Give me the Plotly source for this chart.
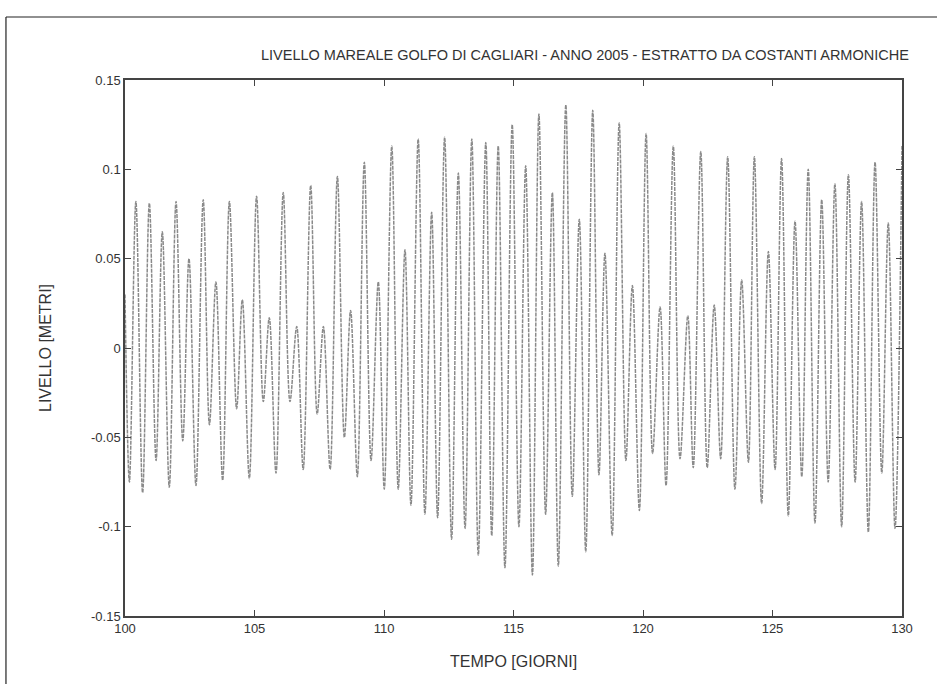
import plotly.graph_objects as go

# Tide level extremes (high and low water), day of year 2005 and level in metres
days = [
    100.00, 100.17, 100.42, 100.68, 100.94, 101.20, 101.44, 101.71, 101.97, 102.23,
    102.47, 102.74, 103.02, 103.26, 103.51, 103.77, 104.03, 104.31, 104.53, 104.80,
    105.08, 105.34, 105.57, 105.83, 106.11, 106.37, 106.63, 106.88, 107.17, 107.42,
    107.66, 107.92, 108.20, 108.47, 108.71, 108.97, 109.24, 109.50, 109.78, 110.01,
    110.30, 110.55, 110.81, 111.04, 111.32, 111.58, 111.84, 112.07, 112.34, 112.61,
    112.87, 113.13, 113.39, 113.64, 113.93, 114.16, 114.41, 114.67, 114.95, 115.21,
    115.47, 115.73, 115.98, 116.24, 116.50, 116.73, 117.02, 117.27, 117.54, 117.79,
    118.06, 118.30, 118.53, 118.81, 119.08, 119.34, 119.59, 119.86, 120.12, 120.37,
    120.66, 120.89, 121.17, 121.43, 121.73, 121.94, 122.23, 122.48, 122.75, 123.00,
    123.27, 123.55, 123.81, 124.07, 124.30, 124.58, 124.84, 125.10, 125.35, 125.61,
    125.87, 126.13, 126.38, 126.64, 126.90, 127.15, 127.41, 127.67, 127.93, 128.19,
    128.44, 128.70, 128.96, 129.22, 129.47, 129.73, 130.00,
]
levels = [
    0.030, -0.075, 0.082, -0.081, 0.081, -0.063, 0.065, -0.078, 0.082, -0.052,
    0.050, -0.077, 0.083, -0.043, 0.037, -0.074, 0.082, -0.034, 0.027, -0.073,
    0.085, -0.030, 0.017, -0.070, 0.087, -0.030, 0.012, -0.068, 0.091, -0.037,
    0.012, -0.068, 0.096, -0.050, 0.021, -0.072, 0.104, -0.063, 0.037, -0.079,
    0.113, -0.079, 0.055, -0.088, 0.117, -0.093, 0.076, -0.095, 0.118, -0.107,
    0.098, -0.101, 0.117, -0.116, 0.115, -0.105, 0.113, -0.123, 0.125, -0.100,
    0.102, -0.127, 0.131, -0.093, 0.087, -0.122, 0.136, -0.083, 0.072, -0.114,
    0.133, -0.071, 0.053, -0.105, 0.126, -0.063, 0.035, -0.091, 0.120, -0.059,
    0.023, -0.077, 0.113, -0.062, 0.018, -0.067, 0.110, -0.067, 0.024, -0.062,
    0.107, -0.079, 0.038, -0.064, 0.107, -0.087, 0.054, -0.068, 0.106, -0.094,
    0.071, -0.072, 0.100, -0.098, 0.083, -0.075, 0.092, -0.100, 0.097, -0.075,
    0.082, -0.103, 0.104, -0.070, 0.070, -0.101, 0.113,
]

x_ticks = [100, 105, 110, 115, 120, 125, 130]
x_tick_labels = ["100", "105", "110", "115", "120", "125", "130"]
y_ticks = [0.15, 0.1, 0.05, 0, -0.05, -0.1, -0.15]
y_tick_labels = ["0.15", "0.1", "0.05", "0", "-0.05", "-0.1", "-0.15"]

TITLE = "LIVELLO MAREALE GOLFO DI CAGLIARI - ANNO 2005 - ESTRATTO DA COSTANTI ARMONICHE"
X_TITLE = "TEMPO [GIORNI]"
Y_TITLE = "LIVELLO [METRI]"
FONT = "Liberation Sans, Arial, sans-serif"
TEXT = "#333333"
AXIS = "#444444"

fig = go.Figure()
fig.add_trace(go.Scatter(
    x=days, y=levels, mode="lines",
    line=dict(color="#8a8a8a", width=1.5, shape="spline", smoothing=1.0, dash="4px,1px"),
    hoverinfo="x+y", showlegend=False,
))

axis_common = dict(
    showline=True, linecolor=AXIS, linewidth=1.5, mirror="ticks",
    ticks="inside", ticklen=6, tickwidth=1, tickcolor=AXIS,
    showgrid=False, zeroline=False,
    tickfont=dict(family=FONT, size=13, color=TEXT),
)

fig.update_xaxes(range=[100, 130], tickvals=x_ticks, ticktext=x_tick_labels, **axis_common)
fig.update_yaxes(range=[-0.15, 0.15], tickvals=y_ticks, ticktext=y_tick_labels, **axis_common)

# Chart title and axis titles placed in paper coordinates
fig.add_annotation(
    text=TITLE, xref="paper", yref="paper", x=0.592, y=1.047,
    showarrow=False, xanchor="center", yanchor="middle",
    font=dict(family=FONT, size=14.5, color=TEXT),
)
fig.add_annotation(
    text=X_TITLE, xref="paper", yref="paper", x=0.5, y=-0.084,
    showarrow=False, xanchor="center", yanchor="middle",
    font=dict(family=FONT, size=16, color=TEXT),
)
fig.add_annotation(
    text=Y_TITLE, xref="paper", yref="paper", x=-0.103, y=0.5, textangle=-90,
    showarrow=False, xanchor="center", yanchor="middle",
    font=dict(family=FONT, size=16, color=TEXT),
)

# Thin outer frame along the top and left of the page
frame = dict(type="line", xref="paper", yref="paper", line=dict(color="#222222", width=1.2))
fig.add_shape(x0=-0.1532, x1=1.05, y0=1.1175, y1=1.1175, **frame)
fig.add_shape(x0=-0.1532, x1=-0.1532, y0=1.1175, y1=-0.13, **frame)

fig.update_layout(
    width=937, height=684,
    margin=dict(l=125, r=35, t=80, b=68),
    paper_bgcolor="white", plot_bgcolor="white",
    font=dict(family=FONT, color=TEXT),
)

fig.write_html("out.html")
